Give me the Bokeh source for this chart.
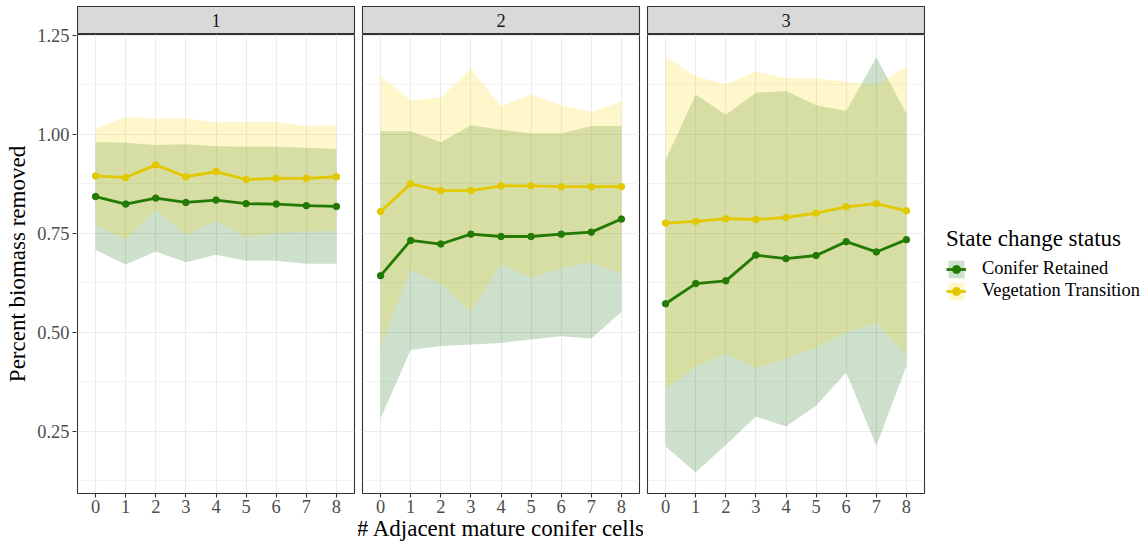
from bokeh.plotting import figure
from bokeh.models import Range1d, FixedTicker, NumeralTickFormatter, Legend, LegendItem
from bokeh.layouts import row, column
from bokeh.embed import file_html
from bokeh.resources import INLINE
from bokeh.core.properties import value

# ---- data -----------------------------------------------------------------
panels = ["1", "2", "3"]
adjacent_cells = [0, 1, 2, 3, 4, 5, 6, 7, 8]
x_ticks = [0, 1, 2, 3, 4, 5, 6, 7, 8]
y_ticks = [0.25, 0.50, 0.75, 1.00, 1.25]
y_minor = [0.125, 0.375, 0.625, 0.875, 1.125]
status_labels = ["Conifer Retained", "Vegetation Transition"]

# Conifer Retained: mean and ribbon bounds per panel
cr_mean_1 = [0.843, 0.824, 0.839, 0.828, 0.834, 0.825, 0.824, 0.820, 0.818]
cr_lo_1 = [0.708, 0.671, 0.704, 0.677, 0.696, 0.681, 0.681, 0.673, 0.673]
cr_hi_1 = [0.981, 0.979, 0.973, 0.975, 0.970, 0.969, 0.969, 0.966, 0.963]
cr_mean_2 = [0.643, 0.732, 0.723, 0.748, 0.742, 0.742, 0.748, 0.753, 0.786]
cr_lo_2 = [0.282, 0.455, 0.465, 0.469, 0.473, 0.482, 0.490, 0.484, 0.551]
cr_hi_2 = [1.008, 1.008, 0.980, 1.023, 1.012, 1.002, 1.002, 1.021, 1.021]
cr_mean_3 = [0.572, 0.623, 0.630, 0.695, 0.686, 0.694, 0.729, 0.703, 0.734]
cr_lo_3 = [0.211, 0.146, 0.215, 0.287, 0.262, 0.314, 0.398, 0.213, 0.415]
cr_hi_3 = [0.935, 1.101, 1.050, 1.105, 1.110, 1.074, 1.059, 1.195, 1.053]

# Vegetation Transition: mean and ribbon bounds per panel
vt_mean_1 = [0.895, 0.891, 0.923, 0.893, 0.906, 0.886, 0.889, 0.889, 0.893]
vt_lo_1 = [0.771, 0.734, 0.809, 0.746, 0.781, 0.740, 0.750, 0.754, 0.756]
vt_hi_1 = [1.015, 1.044, 1.040, 1.040, 1.031, 1.032, 1.032, 1.021, 1.023]
vt_mean_2 = [0.805, 0.875, 0.858, 0.858, 0.870, 0.870, 0.868, 0.868, 0.868]
vt_lo_2 = [0.463, 0.658, 0.623, 0.551, 0.671, 0.637, 0.662, 0.676, 0.648]
vt_hi_2 = [1.147, 1.086, 1.093, 1.166, 1.071, 1.101, 1.074, 1.057, 1.084]
vt_mean_3 = [0.776, 0.780, 0.787, 0.785, 0.790, 0.801, 0.817, 0.825, 0.807]
vt_lo_3 = [0.356, 0.412, 0.446, 0.409, 0.434, 0.461, 0.500, 0.524, 0.441]
vt_hi_3 = [1.197, 1.147, 1.127, 1.159, 1.142, 1.142, 1.134, 1.124, 1.172]

series = {
    "1": ((cr_mean_1, cr_lo_1, cr_hi_1), (vt_mean_1, vt_lo_1, vt_hi_1)),
    "2": ((cr_mean_2, cr_lo_2, cr_hi_2), (vt_mean_2, vt_lo_2, vt_hi_2)),
    "3": ((cr_mean_3, cr_lo_3, cr_hi_3), (vt_mean_3, vt_lo_3, vt_hi_3)),
}

# ---- styling ----------------------------------------------------------------
FONT = "Liberation Serif"
GREEN_FILL = "#006400"
GOLD_FILL = "#FFD700"
GREEN_LINE = "#237a05"
GOLD_LINE = "#e3c800"
GRID = "#ebebeb"
BORDER = "#333333"
TICK_TEXT = "#4d4d4d"

FRAME_W = 277
FRAME_H = 459
STRIP_H = 28
STRIP_TOP = 6
BOTTOM = 52
AXIS_W = 76
GAP = 4
RIGHT_LAST = 224

X_RANGE = (-0.6, 8.6)
Y_RANGE = (0.0925, 1.2525)


def style_axis(ax):
    ax.axis_line_color = None
    ax.major_tick_line_color = BORDER
    ax.major_tick_line_width = 1.1
    ax.major_tick_out = 4
    ax.major_tick_in = 0
    ax.minor_tick_out = 0
    ax.minor_tick_in = 0
    ax.major_label_text_font = FONT
    ax.major_label_text_font_size = "18.4px"
    ax.major_label_text_color = TICK_TEXT
    ax.axis_label_text_font = FONT
    ax.axis_label_text_font_size = "23px"
    ax.axis_label_text_font_style = "normal"
    ax.axis_label_text_color = "black"


def borders(idx):
    left = 0 if idx == 0 else GAP
    right = RIGHT_LAST if idx == 2 else GAP
    return left, right


# shared y axis, spanning strip height too so the top label is not clipped
yaxis_fig = figure(frame_width=1, frame_height=FRAME_H,
                   x_range=Range1d(0, 1), y_range=Range1d(*Y_RANGE),
                   min_border_left=AXIS_W, min_border_right=0,
                   min_border_top=STRIP_TOP + STRIP_H, min_border_bottom=BOTTOM,
                   toolbar_location=None, output_backend="svg",
                   outline_line_color=None)
yaxis_fig.xaxis.visible = False
yaxis_fig.grid.visible = False
yaxis_fig.yaxis.ticker = FixedTicker(ticks=y_ticks, minor_ticks=y_minor)
yaxis_fig.yaxis.formatter = NumeralTickFormatter(format="0.00")
style_axis(yaxis_fig.yaxis[0])
yaxis_fig.yaxis.major_label_standoff = 3
yaxis_fig.yaxis.axis_label = "Percent biomass removed"
yaxis_fig.yaxis.axis_label_standoff = 4


def make_strip(idx, label):
    left, right = borders(idx)
    s = figure(frame_width=FRAME_W, frame_height=STRIP_H,
               x_range=Range1d(0, 1), y_range=Range1d(0, 1),
               min_border_left=left, min_border_right=right,
               min_border_top=STRIP_TOP, min_border_bottom=0,
               toolbar_location=None, output_backend="svg",
               background_fill_color="#d9d9d9",
               outline_line_color=BORDER, outline_line_width=1.1)
    s.axis.visible = False
    s.grid.visible = False
    s.text(x=[0.5], y=[0.5], text=[label], text_align="center",
           text_baseline="middle", text_font=value(FONT),
           text_font_size="18.4px", text_color="#1a1a1a")
    return s


def make_panel(idx, label):
    left, right = borders(idx)
    p = figure(frame_width=FRAME_W, frame_height=FRAME_H,
               x_range=Range1d(*X_RANGE), y_range=Range1d(*Y_RANGE),
               min_border_left=left, min_border_right=right,
               min_border_top=0, min_border_bottom=BOTTOM,
               toolbar_location=None, output_backend="svg",
               background_fill_color="white",
               outline_line_color=BORDER, outline_line_width=1.1)

    (cm, clo, chi), (vm, vlo, vhi) = series[label]
    va_g = p.varea(x=adjacent_cells, y1=clo, y2=chi,
                   fill_color=GREEN_FILL, fill_alpha=0.2)
    va_y = p.varea(x=adjacent_cells, y1=vlo, y2=vhi,
                   fill_color=GOLD_FILL, fill_alpha=0.2)
    ln_g = p.line(x=adjacent_cells, y=cm, line_color=GREEN_LINE, line_width=2.8)
    sc_g = p.scatter(x=adjacent_cells, y=cm, size=6.5, fill_color=GREEN_LINE,
                     line_color=GREEN_LINE)
    ln_y = p.line(x=adjacent_cells, y=vm, line_color=GOLD_LINE, line_width=2.8)
    sc_y = p.scatter(x=adjacent_cells, y=vm, size=6.5, fill_color=GOLD_LINE,
                     line_color=GOLD_LINE)

    # grid
    yt = FixedTicker(ticks=y_ticks, minor_ticks=y_minor)
    xt = FixedTicker(ticks=x_ticks, minor_ticks=[])
    p.xaxis.ticker = xt
    p.yaxis.ticker = yt
    p.xgrid.ticker = xt
    p.ygrid.ticker = yt
    p.grid.grid_line_color = GRID
    p.grid.grid_line_width = 1.1
    p.ygrid.minor_grid_line_color = GRID
    p.ygrid.minor_grid_line_width = 0.6

    style_axis(p.xaxis[0])
    p.xaxis.major_label_standoff = 2
    p.yaxis.visible = False

    if idx == 1:
        p.xaxis.axis_label = "# Adjacent mature conifer cells"
        p.xaxis.axis_label_standoff = 0

    if idx == 2:
        legend = Legend(
            items=[LegendItem(label=status_labels[0], renderers=[va_g, ln_g, sc_g]),
                   LegendItem(label=status_labels[1], renderers=[va_y, ln_y, sc_y])],
            title="State change status", location="center_left")
        legend.title_text_font = FONT
        legend.title_text_font_size = "23px"
        legend.title_text_font_style = "normal"
        legend.title_text_color = "black"
        legend.title_standoff = 6
        legend.label_text_font = FONT
        legend.label_text_font_size = "18.4px"
        legend.label_text_color = "black"
        legend.label_standoff = 16
        legend.glyph_width = 20
        legend.glyph_height = 22
        legend.spacing = 0
        legend.padding = 0
        legend.margin = 22
        legend.border_line_color = None
        legend.background_fill_alpha = 0
        p.add_layout(legend, "right")
    return p


cols = [yaxis_fig]
for i, name in enumerate(panels):
    cols.append(column(make_strip(i, name), make_panel(i, name), spacing=0))

layout = row(*cols, spacing=0)

open("out.html", "w").write(file_html(layout, INLINE))
